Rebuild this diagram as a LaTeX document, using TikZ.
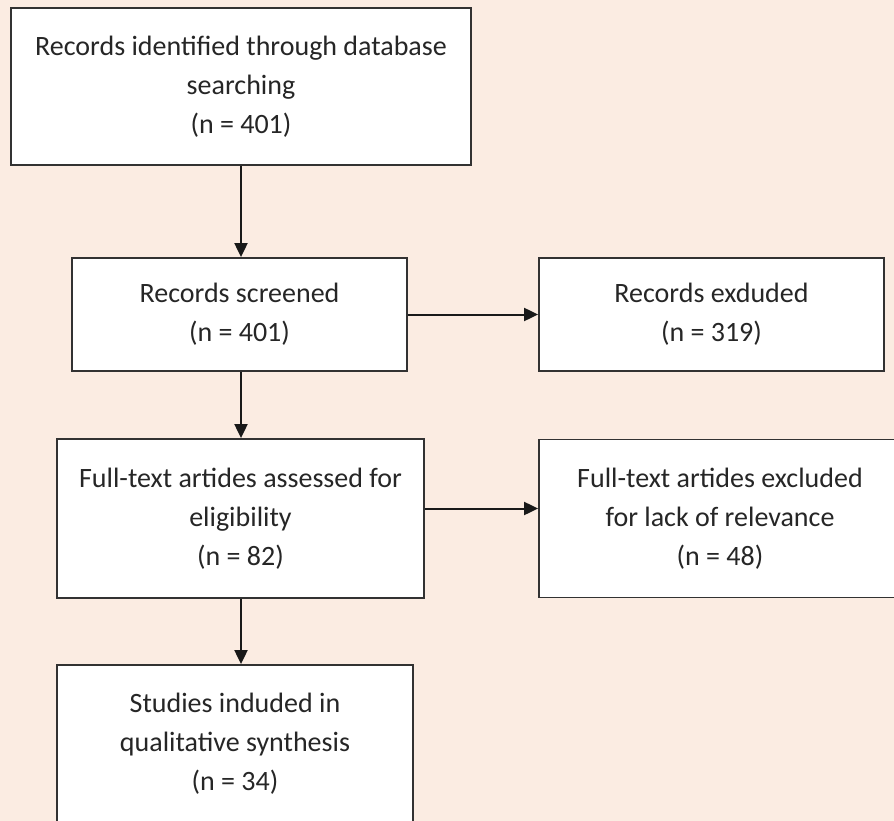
\documentclass[tikz,border=0pt]{standalone}
\usepackage{fontspec}
\setmainfont{Carlito}
\usetikzlibrary{arrows.meta}
\definecolor{bg}{RGB}{251,236,226}
\definecolor{edge}{RGB}{50,50,50}
\begin{document}
\begin{tikzpicture}[x=1pt,y=-1pt,
  box/.style={draw=edge, line width=1.8pt, fill=white, align=center, inner sep=0pt,
    font=\fontsize{28}{39}\selectfont, text=black!85},
  arr/.style={-{Triangle[length=14pt,width=13pt]}, line width=2pt, draw=black!90}]
\clip (0,0) rectangle (894,821);
\fill[bg] (0,0) rectangle (894,821);
\useasboundingbox (0,0) rectangle (894,821);
\node[box, minimum width=460, minimum height=157] (b1) at (241,86.5)
  {Records identified through database\\searching\\(n = 401)};
\node[box, minimum width=335, minimum height=113] (b2) at (239.5,314.5)
  {Records screened\\(n = 401)};
\node[box, minimum width=345, minimum height=113] (b3) at (711.5,314.5)
  {Records exduded\\(n = 319)};
\node[box, minimum width=367, minimum height=159] (b4) at (240.5,518.5)
  {Full-text artides assessed for\\eligibility\\(n = 82)};
\node[box, minimum width=362, minimum height=158] (b5) at (720,518.5)
  {Full-text artides excluded\\for lack of relevance\\(n = 48)};
\node[box, minimum width=356, minimum height=157] (b6) at (235,743.5)
  {Studies induded in\\qualitative synthesis\\(n = 34)};
\draw[arr] (b1.south) -- (b1.south |- b2.north);
\draw[arr] (b1.south |- b2.south) -- (b1.south |- b4.north);
\draw[arr] (b1.south |- b4.south) -- (b1.south |- b6.north);
\draw[arr] (b2.east) -- (b2.east -| b3.west);
\draw[arr] ([yshift=10pt]b4.east) -- ([yshift=10pt]b4.east -| b5.west);
\end{tikzpicture}
\end{document}
